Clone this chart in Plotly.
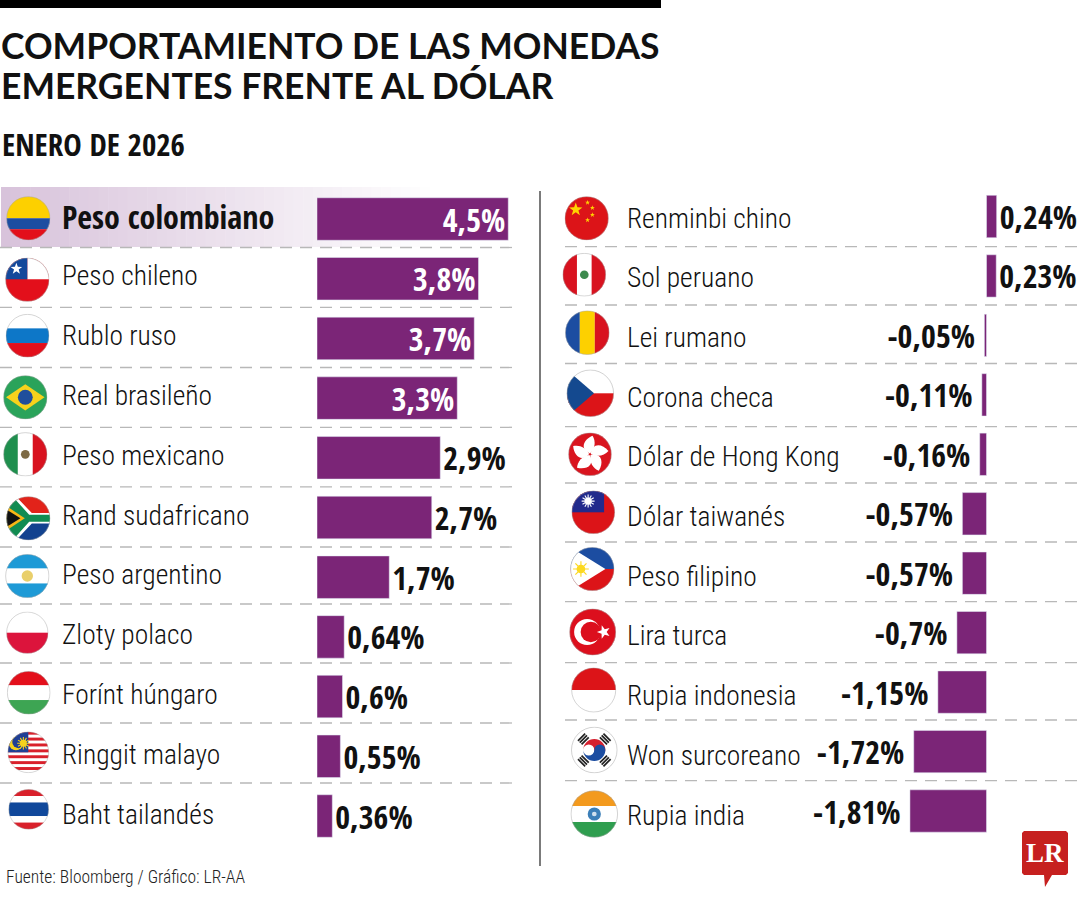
import base64
import math
import plotly.graph_objects as go

W, H = 1080, 900

left_names = ["Peso colombiano", "Peso chileno", "Rublo ruso", "Real brasileño", "Peso mexicano",
              "Rand sudafricano", "Peso argentino", "Zloty polaco", "Forínt húngaro", "Ringgit malayo",
              "Baht tailandés"]
left_values = [4.5, 3.8, 3.7, 3.3, 2.9, 2.7, 1.7, 0.64, 0.6, 0.55, 0.36]
left_labels = ["4,5%", "3,8%", "3,7%", "3,3%", "2,9%", "2,7%", "1,7%", "0,64%", "0,6%", "0,55%", "0,36%"]

right_names = ["Renminbi chino", "Sol peruano", "Lei rumano", "Corona checa", "Dólar de Hong Kong",
               "Dólar taiwanés", "Peso filipino", "Lira turca", "Rupia indonesia", "Won surcoreano",
               "Rupia india"]
right_values = [0.24, 0.23, -0.05, -0.11, -0.16, -0.57, -0.57, -0.7, -1.15, -1.72, -1.81]
right_labels = ["0,24%", "0,23%", "-0,05%", "-0,11%", "-0,16%", "-0,57%", "-0,57%", "-0,7%", "-1,15%",
                "-1,72%", "-1,81%"]

PURPLE = "#7b2577"
LABEL_FONT = "Roboto Condensed Light, Roboto Condensed"
BOLD_FONT = "Open Sans Condensed"
TITLE_FONT = "Lato"
INK = "#111111"


def px(x):
    return x / W


def py(y):
    return 1 - y / H


# ---------- flags as small vector icons ----------
def star(cx, cy, r, fill, rot=-90):
    pts = []
    for i in range(10):
        rad = r if i % 2 == 0 else r * 0.4
        a = math.radians(rot + i * 36)
        pts.append(f"{cx + rad * math.cos(a):.1f},{cy + rad * math.sin(a):.1f}")
    return f'<polygon points="{" ".join(pts)}" fill="{fill}"/>'


def rect(x, y, w, h, fill):
    return f'<rect x="{x}" y="{y}" width="{w}" height="{h}" fill="{fill}"/>'


def circ(x, y, r, fill):
    return f'<circle cx="{x}" cy="{y}" r="{r}" fill="{fill}"/>'


def poly(points, fill):
    return f'<polygon points="{points}" fill="{fill}"/>'


def hstripes(*bands):
    return "".join(rect(-50, a, 100, b - a, c) for a, b, c in bands)


def vstripes(*bands):
    return "".join(rect(a, -50, b - a, 100, c) for a, b, c in bands)


RED = "#e30f1b"
WHITE = "#ffffff"
GREEN = "#2aa35a"


def sunburst(cx, cy, r, fill, n=12):
    s = ""
    for i in range(n):
        a = 2 * math.pi * i / n
        s += (f'<line x1="{cx}" y1="{cy}" x2="{cx + r * math.cos(a):.1f}" y2="{cy + r * math.sin(a):.1f}" '
              f'stroke="{fill}" stroke-width="2.6"/>')
    return s + circ(cx, cy, r * 0.55, fill)


def malaysia():
    s = rect(-50, -50, 100, 100, WHITE)
    for i in range(7):
        s += rect(-50, -50 + i * 14.3, 100, 7.15, "#d9202b")
    s += rect(-50, -50, 50, 50, "#1f3f95")
    s += circ(-30, -22, 17, "#f6d21c") + circ(-24, -25, 15, "#1f3f95")
    s += sunburst(-12, -22, 15, "#f6d21c")
    return s


def south_africa():
    s = rect(-50, -50, 100, 50, "#e2231a") + rect(-50, 0, 100, 50, "#12428f")
    s += poly("-50,-50 -28,-50 8,-12 50,-12 50,12 8,12 -28,50 -50,50", WHITE)
    s += poly("-50,-42 -36,-50 2,-8 50,-8 50,8 2,8 -36,50 -50,42", "#118c52")
    s += poly("-50,-28 -8,0 -50,28", "#f7b616")
    s += poly("-50,-20 -18,0 -50,20", "#111111")
    return s


def hongkong():
    s = rect(-50, -50, 100, 100, "#d9141e")
    for i in range(5):
        a = i * 72
        s += (f'<g transform="rotate({a})"><path d="M0,-2 C-24,-12 -16,-34 6,-43 C14,-30 12,-14 0,-2 Z" '
              f'fill="{WHITE}"/></g>')
    return s


def turkey():
    return (rect(-50, -50, 100, 100, "#dc0f1d") + circ(-12, 0, 28, WHITE) + circ(-4, 0, 22, "#dc0f1d")
            + star(24, 0, 15, WHITE, rot=180))


def korea():
    s = rect(-50, -50, 100, 100, WHITE)
    s += '<path d="M-24,0 A24,24 0 0 1 24,0 A12,12 0 0 1 0,0 A12,12 0 0 0 -24,0 Z" fill="#d5202f"/>'
    s += '<path d="M-24,0 A24,24 0 0 0 24,0 A12,12 0 0 0 0,0 A12,12 0 0 1 -24,0 Z" fill="#1c4da1"/>'
    for a in (-45, 45, 135, 225):
        s += f'<g transform="rotate({a})">'
        for off in (-41, -35.5, -30):
            s += rect(-11, off, 22, 3.8, "#222222")
        s += "</g>"
    return s


FLAGS = {
    "Peso colombiano": hstripes((-50, 0, "#fdd000"), (0, 25, "#1c4da1"), (25, 50, RED)),
    "Peso chileno": rect(-50, -50, 100, 100, RED) + rect(0, -50, 50, 49, WHITE) + rect(-50, -50, 50, 49, "#14489b")
    + star(-25, -25, 14, WHITE),
    "Rublo ruso": hstripes((-50, -17, WHITE), (-17, 17, "#0d77c8"), (17, 50, RED)),
    "Real brasileño": rect(-50, -50, 100, 100, GREEN) + poly("-44,0 0,-30 44,0 0,30", "#f6d21c") + circ(0, 0, 17, "#1f4f9c"),
    "Peso mexicano": vstripes((-50, -17, "#1f8f4e"), (-17, 17, WHITE), (17, 50, "#d8121f")) + circ(0, 0, 10, "#7d6a45"),
    "Rand sudafricano": south_africa(),
    "Peso argentino": hstripes((-50, -17, "#1e9ad6"), (-17, 17, WHITE), (17, 50, "#1e9ad6")) + circ(0, 0, 13, "#e9cf6b"),
    "Zloty polaco": hstripes((-50, 0, WHITE), (0, 50, "#dc143c")),
    "Forínt húngaro": hstripes((-50, -17, "#e30f1b"), (-17, 17, WHITE), (17, 50, "#3da553")),
    "Ringgit malayo": malaysia(),
    "Baht tailandés": hstripes((-50, -33, "#d9202b"), (-33, -17, WHITE), (-17, 17, "#10489b"), (17, 33, WHITE), (33, 50, "#d9202b")),
    "Renminbi chino": rect(-50, -50, 100, 100, "#dc1418") + star(-25, -20, 16, "#ffd400") + star(2, -36, 6, "#ffd400")
    + star(13, -24, 6, "#ffd400") + star(13, -8, 6, "#ffd400") + star(2, 4, 6, "#ffd400"),
    "Sol peruano": vstripes((-50, -17, "#d8121f"), (-17, 17, WHITE), (17, 50, "#d8121f")) + circ(0, 0, 10, "#3d8a4e"),
    "Lei rumano": vstripes((-50, -17, "#1c4da1"), (-17, 17, "#fdd000"), (17, 50, "#d8121f")),
    "Corona checa": hstripes((-50, 0, WHITE), (0, 50, "#dc1418")) + poly("-50,-50 8,0 -50,50", "#14498f"),
    "Dólar de Hong Kong": hongkong(),
    "Dólar taiwanés": rect(-50, -50, 100, 100, "#dc1418") + rect(-50, -50, 75, 50, "#222a8c") + sunburst(-12, -26, 15, WHITE),
    "Peso filipino": hstripes((-50, 0, "#1c4da1"), (0, 50, "#dc1418")) + poly("-50,-50 30,0 -50,50", WHITE)
    + sunburst(-26, 0, 18, "#fcd920", n=8),
    "Lira turca": turkey(),
    "Rupia indonesia": hstripes((-50, 0, "#dc1418"), (0, 50, WHITE)),
    "Won surcoreano": korea(),
    "Rupia india": hstripes((-50, -17, "#f39a1e"), (-17, 17, WHITE), (17, 50, "#2f9e4f")) + circ(0, 0, 14, "#3b7fb8") + circ(0, 0, 5, "#cfe0ee"),
}

# icon centre x, centre y, radius (pixels on the page)
FLAG_POS = {
    "Peso colombiano": (28.3, 218.3, 22.3), "Peso chileno": (27.3, 279.7, 22.3), "Rublo ruso": (27.5, 335.7, 22),
    "Real brasileño": (25.3, 397.3, 22.3), "Peso mexicano": (25.3, 454.3, 22.3), "Rand sudafricano": (28.3, 518.3, 22.3),
    "Peso argentino": (27.3, 576, 22.3), "Zloty polaco": (27.3, 632.7, 21.3), "Forínt húngaro": (28.7, 692.7, 22),
    "Ringgit malayo": (28.3, 752.3, 21), "Baht tailandés": (28.7, 809.3, 20.5),
    "Renminbi chino": (586.7, 218.3, 22.3), "Sol peruano": (584.3, 274.7, 22), "Lei rumano": (587.3, 332.7, 22.5),
    "Corona checa": (590.3, 393.3, 24), "Dólar de Hong Kong": (590, 454.3, 22), "Dólar taiwanés": (593.3, 512.3, 22),
    "Peso filipino": (592.3, 569, 22.3), "Lira turca": (592.7, 632, 23.7), "Rupia indonesia": (593.7, 690, 22.7),
    "Won surcoreano": (594.3, 750, 23.5), "Rupia india": (594.3, 814, 24),
}


def flag_uri(body):
    svg = ('<svg xmlns="http://www.w3.org/2000/svg" viewBox="-51 -51 102 102">'
           '<defs><clipPath id="c"><circle r="50"/></clipPath></defs>'
           f'<g clip-path="url(#c)">{body}</g>'
           '<circle r="49.5" fill="none" stroke="#a8a8a8" stroke-width="1.4" opacity="0.8"/></svg>')
    return "data:image/svg+xml;base64," + base64.b64encode(svg.encode()).decode()


images = []
for name, body in FLAGS.items():
    cx, cy, r = FLAG_POS[name]
    images.append(dict(source=flag_uri(body), xref="paper", yref="paper", x=px(cx - r), y=py(cy - r),
                       sizex=2 * r / W, sizey=2 * r / H, xanchor="left", yanchor="top", sizing="stretch",
                       layer="above"))

# ---------- layout geometry ----------
L_BASE, R_BASE = 317, 986.5
L_UNIT, R_UNIT = 42.5, 42.3
L_PITCH, L_TOP = 59.7, 219 - 29.85
R_PITCH, R_TOP = 59.45, 216.5 - 29.725

fig = go.Figure()
fig.add_bar(
    y=left_names, x=left_values, orientation="h", xaxis="x", yaxis="y", marker_color=PURPLE,
    text=left_labels, textposition=["inside"] * 4 + ["outside"] * 7, insidetextanchor="end",
    constraintext="none", cliponaxis=False, textangle=0,
    textfont=dict(family=BOLD_FONT, size=32, weight="bold", color=[WHITE] * 4 + [INK] * 7),
    hoverinfo="skip",
)
fig.add_bar(
    y=right_names, x=right_values, orientation="h", xaxis="x2", yaxis="y2", marker_color=PURPLE,
    text=[t if v > 0 else t + "\u2009" for t, v in zip(right_labels, right_values)], textposition="outside",
    constraintext="none", cliponaxis=False, textangle=0,
    textfont=dict(family=BOLD_FONT, size=32, weight="bold", color=INK),
    hoverinfo="skip",
)

shapes = []
# highlight gradient behind the first row
steps = 44
x0, x1 = 1.0, 430.0
for i in range(steps):
    t = i / steps
    c = [round(a + (255 - a) * t) for a in (0xd8, 0xc3, 0xdb)]
    shapes.append(dict(type="rect", xref="paper", yref="paper", layer="below", line_width=0,
                       x0=px(x0 + (x1 - x0) * t), x1=px(x0 + (x1 - x0) * (t + 1 / steps) + 0.5),
                       y0=py(247), y1=py(187), fillcolor=f"rgb({c[0]},{c[1]},{c[2]})"))

# row separators
DASH = "12px,8px"
for y in [247.5, 307.3, 367.5, 427.3, 486.8, 547, 604, 663, 723, 783]:
    shapes.append(dict(type="line", xref="paper", yref="paper", layer="below", x0=px(0), x1=px(513), y0=py(y), y1=py(y),
                       line=dict(color="#b8b8b8", width=1.3, dash=DASH)))
for y in [246.7, 305, 363.5, 426.7, 483, 542, 601.7, 662.7, 720, 780.7]:
    shapes.append(dict(type="line", xref="paper", yref="paper", layer="below", x0=px(565), x1=px(1080), y0=py(y), y1=py(y),
                       line=dict(color="#b8b8b8", width=1.3, dash=DASH)))

# top rule and central divider
shapes.append(dict(type="rect", xref="paper", yref="paper", x0=px(0), x1=px(661), y0=py(0), y1=py(8), fillcolor="#000000", line_width=0))
shapes.append(dict(type="line", xref="paper", yref="paper", x0=px(540), x1=px(540), y0=py(191), y1=py(866),
                   line=dict(color="#222222", width=1.2)))

# logo bubble
pts = [(1024, 831), (1066, 831), (1068, 833), (1068, 873), (1066, 875), (1052, 875), (1045, 887), (1044, 875),
       (1024, 875), (1022, 873), (1022, 833)]
shapes.append(dict(type="path", xref="paper", yref="paper", line_width=0, fillcolor="#c6201f",
                   path="M " + " L ".join(f"{px(a):.5f},{py(b):.5f}" for a, b in pts) + " Z"))


def note(x, y, text, size, family=LABEL_FONT, weight="normal", color=INK, anchor="left"):
    return dict(xref="paper", yref="paper", x=px(x), y=py(y), text=text, showarrow=False, xanchor=anchor, yanchor="middle",
                align="left", font=dict(family=family, size=size, weight=weight, color=color), borderpad=0)


annotations = [
    note(0, 45, "COMPORTAMIENTO DE LAS MONEDAS", 35.5, family=TITLE_FONT, weight="bold"),
    note(0, 85, "EMERGENTES FRENTE AL DÓLAR", 35.5, family=TITLE_FONT, weight="bold"),
    note(1, 144, "ENERO DE 2026", 31, family=BOLD_FONT, weight="bold"),
    note(5, 877, "Fuente: Bloomberg / Gráfico: LR-AA", 17.5, color="#222222"),
    note(1045, 853, "LR", 27, family="Liberation Serif", weight="bold", color=WHITE, anchor="center"),
]
for i, name in enumerate(left_names):
    if i == 0:
        annotations.append(note(61, 216, name, 32, family=BOLD_FONT, weight="bold"))
    else:
        annotations.append(note(61, 216 + i * 59.8, name, 27.5, color="#111111"))
for i, name in enumerate(right_names):
    annotations.append(note(626, 218 + i * 59.7, name, 27.5, color="#111111"))

fig.update_layout(
    width=W, height=H, margin=dict(l=0, r=0, t=0, b=0), paper_bgcolor="white", plot_bgcolor="rgba(0,0,0,0)",
    showlegend=False, bargap=0.288, shapes=shapes, images=images, annotations=annotations,
    font=dict(family=LABEL_FONT),
    xaxis=dict(domain=[px(L_BASE), px(535)], range=[0, (535 - L_BASE) / L_UNIT], visible=False, anchor="y"),
    yaxis=dict(domain=[py(L_TOP + 11 * L_PITCH), py(L_TOP)], type="category", categoryorder="array", categoryarray=left_names,
               range=[10.5, -0.5], visible=False, anchor="x"),
    xaxis2=dict(domain=[px(880), px(1080)], range=[(880 - R_BASE) / R_UNIT, (1080 - R_BASE) / R_UNIT], visible=False, anchor="y2"),
    yaxis2=dict(domain=[py(R_TOP + 11 * R_PITCH), py(R_TOP)], type="category", categoryorder="array", categoryarray=right_names,
                range=[10.5, -0.5], visible=False, anchor="x2"),
)

fig.write_html("out.html", config=dict(displayModeBar=False),
               post_script="document.body.style.margin='0';document.documentElement.style.overflow='hidden';")
